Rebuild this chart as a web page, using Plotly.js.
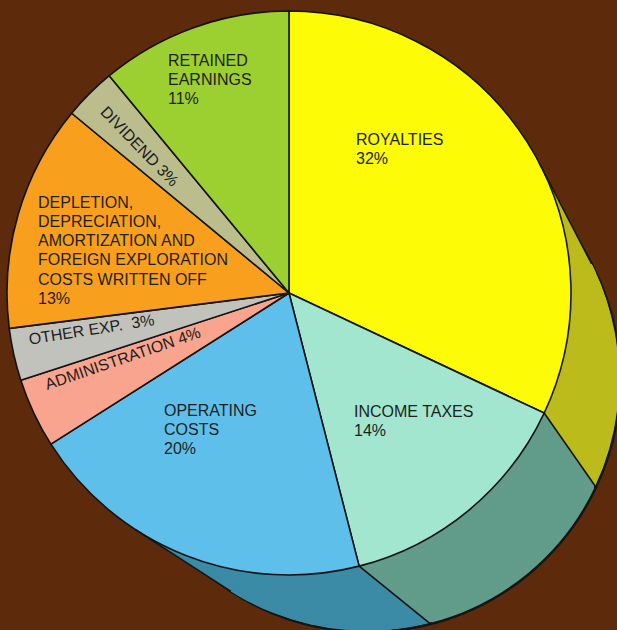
<!DOCTYPE html>
<html>
<head>
<meta charset="utf-8">
<script src="https://cdn.plot.ly/plotly-3.0.1.min.js"></script>
<style>
  html, body { margin: 0; padding: 0; background: #5e2a0c; overflow: hidden; width: 617px; height: 630px; }
  #chart { width: 700px; height: 700px; }
</style>
</head>
<body>
<div id="chart"></div>
<script>
// ---- data ----
const categories = ["Royalties", "Income taxes", "Operating costs", "Administration",
  "Other exp.", "Depletion, depreciation, amortization and foreign exploration costs written off",
  "Dividend", "Retained earnings"];
const shares = [32, 14, 20, 4, 3, 13, 3, 11];
const labelLines = [
  ["ROYALTIES"],
  ["INCOME TAXES"],
  ["OPERATING", "COSTS"],
  ["ADMINISTRATION"],
  ["OTHER EXP. "],
  ["DEPLETION,", "DEPRECIATION,", "AMORTIZATION AND", "FOREIGN EXPLORATION", "COSTS WRITTEN OFF"],
  ["DIVIDEND"],
  ["RETAINED", "EARNINGS"]
];

// ---- style ----
const topColors  = ["#fdfb06", "#a2e6cf", "#5ec0ea", "#f8a48e", "#c2c2bc", "#f8a01e", "#bcbd8c", "#9ccf30"];
const sideColors = ["#bcbb1c", "#629c8a", "#3b8ba6", "#b07060", "#888884", "#b06a10", "#85855c", "#6c9020"];
const edgeColor = "#141414";

const W = 700, H = 700;
const front = {cx: 289, cy: 293, r: 282};
const back  = {cx: 368, cy: 380, r: 252};
const steps = 40;

function dom(c) {
  return { x: [(c.cx - c.r) / W, (c.cx + c.r) / W], y: [1 - (c.cy + c.r) / H, 1 - (c.cy - c.r) / H] };
}
function lerp(t) {
  return { cx: front.cx + t * (back.cx - front.cx), cy: front.cy + t * (back.cy - front.cy), r: front.r + t * (back.r - front.r) };
}
function pieTrace(c, colors, lw) {
  return {
    type: "pie", labels: categories, values: shares, sort: false, direction: "clockwise", rotation: 0,
    domain: dom(c), textinfo: "none", hoverinfo: "skip", showlegend: false,
    marker: { colors: colors, line: { color: edgeColor, width: lw } }
  };
}

const traces = [];
traces.push(pieTrace(back, sideColors, 2.5));
for (let k = steps - 1; k >= 1; k--) traces.push(pieTrace(lerp(k / steps), sideColors, 0));
traces.push(pieTrace(front, topColors, 1.6));

// ---- extrusion outlines (derived from geometry and slice boundaries) ----
const px = x => x / W, py = y => 1 - y / H;
const shapes = [];
function seg(x0, y0, x1, y1, w) {
  shapes.push({ type: "line", xref: "paper", yref: "paper", layer: "above",
    x0: px(x0), y0: py(y0), x1: px(x1), y1: py(y1), line: { color: edgeColor, width: w } });
}
const dx = back.cx - front.cx, dy = back.cy - front.cy, L = Math.hypot(dx, dy), dr = front.r - back.r;
const phi = Math.atan2(dy, dx), alpha = Math.acos(dr / L);
[phi - alpha, phi + alpha].forEach(a => {
  const nx = Math.cos(a), ny = Math.sin(a);
  seg(front.cx + front.r * nx, front.cy + front.r * ny, back.cx + back.r * nx, back.cy + back.r * ny, 1.6);
});
const total = shares.reduce((a, b) => a + b, 0);
let cum = 0;
shares.forEach(v => {
  cum += v;
  const th = cum / total * 2 * Math.PI;
  const nx = Math.sin(th), ny = -Math.cos(th);
  if (nx * dx + ny * dy > dr + 1) {
    seg(front.cx + front.r * nx, front.cy + front.r * ny, back.cx + back.r * nx, back.cy + back.r * ny, 1.6);
  }
});

// ---- labels ----
const font = { family: "Liberation Sans, Arial, sans-serif", size: 16, color: "#1e1e1e" };
const annotations = [];
// multi-line horizontal labels: [index, left x, first line centre y]
const blockPos = { 0: [354, 139], 1: [352, 411], 2: [162, 410], 5: [36, 202], 7: [166, 60] };
const lineGap = 19.3;
Object.keys(blockPos).forEach(key => {
  const i = +key;
  const lines = labelLines[i].concat([shares[i] + "%"]);
  lines.forEach((t, j) => {
    annotations.push({ xref: "paper", yref: "paper", x: px(blockPos[i][0]), y: py(blockPos[i][1] + j * lineGap),
      xanchor: "left", yanchor: "middle", text: t, showarrow: false, font: font });
  });
});
// rotated single-line labels: [index, centre x, centre y, angle]
const rotPos = [[3, 122, 358, -19], [4, 91, 329, -9], [6, 140, 146, 46]];
rotPos.forEach(([i, x, y, ang]) => {
  annotations.push({ xref: "paper", yref: "paper", x: px(x), y: py(y), xanchor: "center", yanchor: "middle",
    text: labelLines[i][0] + " " + shares[i] + "%", textangle: ang, showarrow: false, font: font });
});

Plotly.newPlot("chart", traces, {
  width: W, height: H, margin: { l: 0, r: 0, t: 0, b: 0 },
  paper_bgcolor: "#5e2a0c", plot_bgcolor: "#5e2a0c",
  showlegend: false, shapes: shapes, annotations: annotations
}, { staticPlot: true });
</script>
</body>
</html>
